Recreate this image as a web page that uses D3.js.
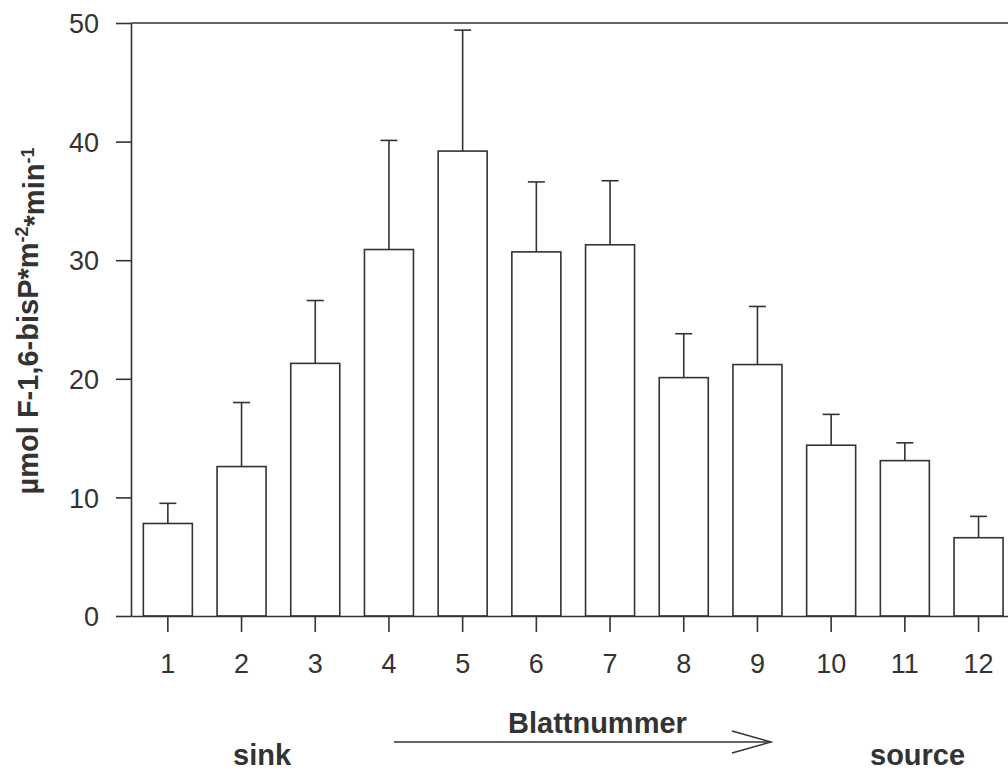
<!DOCTYPE html>
<html>
<head>
<meta charset="utf-8">
<script src="https://cdn.jsdelivr.net/npm/d3@7"></script>
<style>
  html, body { margin: 0; padding: 0; background: #ffffff; }
  svg { display: block; }
  text { font-family: "Liberation Sans", Arial, sans-serif; fill: #333333; }
</style>
</head>
<body>
<svg id="chart" width="1008" height="771"></svg>
<script>
// ---- data ----
const leaves = ["1", "2", "3", "4", "5", "6", "7", "8", "9", "10", "11", "12"];
const means  = [7.8, 12.6, 21.3, 30.9, 39.2, 30.7, 31.3, 20.1, 21.2, 14.4, 13.1, 6.6];
const errors = [1.7, 5.4, 5.3, 9.2, 10.2, 5.9, 5.4, 3.7, 4.9, 2.6, 1.5, 1.8];
const yTicks = [0, 10, 20, 30, 40, 50];
const yLabelParts = [
  { t: "µmol F-1,6-bisP*m", sup: false },
  { t: "-2", sup: true },
  { t: "*min", sup: false },
  { t: "-1", sup: true }
];
const xTitle = "Blattnummer";
const leftNote = "sink";
const rightNote = "source";

const rows = leaves.map((k, i) => ({ leaf: k, mean: means[i], err: errors[i] }));

// ---- layout ----
const svg = d3.select("#chart");
const ink = "#333333";
const plotL = 131, plotR = 1015.4, plotT = 23, plotB = 616;
const pad = 0.335;

const x = d3.scaleBand().domain(leaves).range([plotL, plotR])
  .paddingInner(pad).paddingOuter(pad / 2);
const y = d3.scaleLinear().domain([0, 50]).range([plotB, plotT]);

// top frame line
svg.append("line")
  .attr("x1", plotL).attr("x2", plotR)
  .attr("y1", y(50)).attr("y2", y(50))
  .attr("stroke", ink).attr("stroke-width", 1.6);

// bars
svg.append("g").selectAll("rect").data(rows).join("rect")
  .attr("x", d => x(d.leaf))
  .attr("width", x.bandwidth())
  .attr("y", d => y(d.mean))
  .attr("height", d => y(0) - y(d.mean))
  .attr("fill", "#ffffff")
  .attr("stroke", ink).attr("stroke-width", 1.6);

// error bars
const eg = svg.append("g").attr("stroke", ink).attr("stroke-width", 1.6);
eg.selectAll("line.v").data(rows).join("line").attr("class", "v")
  .attr("x1", d => x(d.leaf) + x.bandwidth() / 2)
  .attr("x2", d => x(d.leaf) + x.bandwidth() / 2)
  .attr("y1", d => y(d.mean))
  .attr("y2", d => y(d.mean + d.err));
eg.selectAll("line.c").data(rows).join("line").attr("class", "c")
  .attr("x1", d => x(d.leaf) + x.bandwidth() / 2 - 8.5)
  .attr("x2", d => x(d.leaf) + x.bandwidth() / 2 + 8.5)
  .attr("y1", d => y(d.mean + d.err))
  .attr("y2", d => y(d.mean + d.err));

// axes
const yAxis = d3.axisLeft(y).tickValues(yTicks).tickSize(15).tickSizeOuter(0).tickPadding(17);
const gy = svg.append("g").attr("transform", `translate(${plotL},0)`).call(yAxis);
gy.select(".domain").attr("stroke", ink).attr("stroke-width", 1.6);
gy.selectAll(".tick line").attr("stroke", ink).attr("stroke-width", 1.6);
gy.selectAll(".tick text").style("font-size", "27px")
  .style("font-family", "'Liberation Sans', Arial, sans-serif").attr("fill", ink).attr("dy", "0.36em");

const xAxis = d3.axisBottom(x).tickSize(16).tickSizeOuter(0).tickPadding(22);
const gx = svg.append("g").attr("transform", `translate(0,${plotB})`).call(xAxis);
gx.select(".domain").attr("stroke", ink).attr("stroke-width", 1.6);
gx.selectAll(".tick line").attr("stroke", ink).attr("stroke-width", 1.6);
gx.selectAll(".tick text").style("font-size", "27px")
  .style("font-family", "'Liberation Sans', Arial, sans-serif").attr("fill", ink);

// y label
const yl = svg.append("text")
  .attr("transform", "translate(38,321) rotate(-90)")
  .attr("text-anchor", "middle")
  .style("font-size", "29px").style("font-weight", "bold");
yLabelParts.forEach((p, i) => {
  yl.append("tspan")
    .text(p.t)
    .attr("dy", p.sup ? "-0.55em" : (i > 0 ? "0.55em" : "0"))
    .style("font-size", p.sup ? "18px" : "29px");
});

// bottom annotations
svg.append("text").attr("x", 508).attr("y", 733)
  .style("font-size", "29px").style("font-weight", "bold").text(xTitle);
svg.append("text").attr("x", 233).attr("y", 765)
  .style("font-size", "29px").style("font-weight", "bold").text(leftNote);
svg.append("text").attr("x", 870).attr("y", 765)
  .style("font-size", "29px").style("font-weight", "bold").text(rightNote);

// arrow
const ag = svg.append("g").attr("stroke", ink).attr("stroke-width", 1.5).attr("fill", "none");
ag.append("line").attr("x1", 394).attr("x2", 771).attr("y1", 742).attr("y2", 742);
ag.append("polyline").attr("points", "732,731 771,742 732,753");
</script>
</body>
</html>
